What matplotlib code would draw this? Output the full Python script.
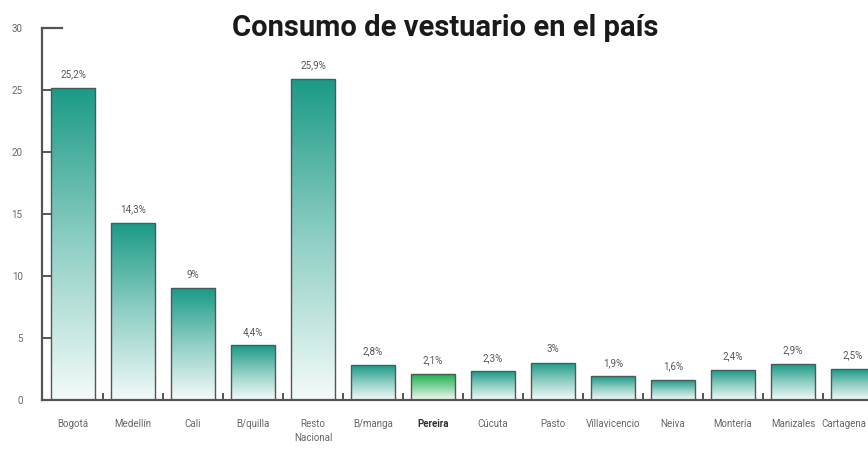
import matplotlib
matplotlib.use("Agg")
import matplotlib.pyplot as plt
import matplotlib.transforms as mtransforms
import numpy as np
from matplotlib.colors import LinearSegmentedColormap

categories = ["Bogotá", "Medellín", "Cali", "B/quilla", "Resto\nNacional", "B/manga",
              "Pereira", "Cúcuta", "Pasto", "Villavicencio", "Neiva", "Montería",
              "Manizales", "Cartagena"]
values = [25.2, 14.3, 9, 4.4, 25.9, 2.8, 2.1, 2.3, 3, 1.9, 1.6, 2.4, 2.9, 2.5]
value_labels = ["25,2%", "14,3%", "9%", "4,4%", "25,9%", "2,8%", "2,1%", "2,3%", "3%",
                "1,9%", "1,6%", "2,4%", "2,9%", "2,5%"]
yticks = [0, 5, 10, 15, 20, 25, 30]
highlight = "Pereira"

FONT = ["Roboto", "DejaVu Sans"]
plt.rcParams['font.family'] = FONT

fig = plt.figure(figsize=(8.68, 4.53), dpi=100)
ax = fig.add_axes([42/868, 53/453, 1 - 42/868, 372/453])

teal = LinearSegmentedColormap.from_list("teal", ["#f4fbfa", "#8fcfc4", "#1a9a86"])
green = LinearSegmentedColormap.from_list("green", ["#f2fbf2", "#7fd39a", "#1aa94a"])

x = np.arange(len(categories))
width = 0.73
bars = ax.bar(x, values, width=width, color="none", edgecolor="#555555", linewidth=1.0, zorder=3)
grad = np.linspace(0, 1, 256).reshape(-1, 1)
for b, cat in zip(bars, categories):
    cmap = green if cat == highlight else teal
    x0, y0 = b.get_x(), b.get_y()
    w, h = b.get_width(), b.get_height()
    im = ax.imshow(grad, cmap=cmap, origin="lower", aspect="auto",
                   extent=[x0, x0 + w, y0, y0 + h], zorder=2)
    im.set_clip_path(b)

for xi, v, lab in zip(x, values, value_labels):
    ax.text(xi, v + 0.7, lab, ha="center", va="bottom", fontsize=7, color="#555555")

xmin, xmax = -0.517, 13.25
ax.set_xlim(xmin, xmax)
ax.set_ylim(0, 30)

for s in ["top", "right"]:
    ax.spines[s].set_visible(False)
ax.spines["left"].set_color("#555555")
ax.spines["bottom"].set_color("#555555")
ax.spines["left"].set_linewidth(1.6)
ax.spines["bottom"].set_linewidth(1.6)
ax.spines["bottom"].set_zorder(4)

ax.set_yticks(yticks)
ax.set_yticklabels([str(t) for t in yticks], fontsize=7, color="#666666")
ax.tick_params(axis="y", direction="in", length=7, width=1.4, color="#555555", pad=14)
ax.plot([xmin, xmin + 20/60], [30, 30], color="#555555", lw=1.6, clip_on=False, zorder=4)

ax.set_xticks(x)
ax.set_xticklabels([])
ax.tick_params(axis="x", length=0)
ax.set_xticks(x[:-1] + 0.5, minor=True)
ax.tick_params(axis="x", which="minor", direction="in", length=5, width=1.4, color="#555555")

trans = mtransforms.blended_transform_factory(ax.transData, ax.transAxes)
for i, (xi, cat) in enumerate(zip(x, categories)):
    bold = cat == highlight
    if i == len(categories) - 1:
        ax.text(xmax - 0.02, -0.052, cat, transform=trans, ha="right", va="top",
                fontsize=7, color="#666666", clip_on=False)
    else:
        ax.text(xi, -0.052, cat, transform=trans, ha="center", va="top",
                fontsize=7, color="#333333" if bold else "#666666",
                fontweight="bold" if bold else "normal", linespacing=1.5, clip_on=False)

fig.text(445/868, 1 - 28/453, "Consumo de vestuario en el país", ha="center", va="center",
         fontsize=21, fontweight="bold", color="#1a1a1a")

fig.savefig("out.png", dpi=100, facecolor="white")
